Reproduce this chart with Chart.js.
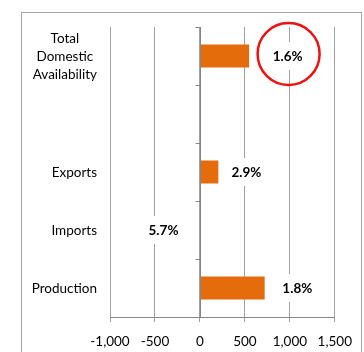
<!DOCTYPE html>
<html>
<head>
<meta charset="utf-8">
<script src="https://cdn.jsdelivr.net/npm/chart.js@4.4.1/dist/chart.umd.min.js"></script>
<style>
  html, body { margin: 0; padding: 0; background: #fff; }
  #wrap { width: 364px; height: 352px; position: relative; }
</style>
</head>
<body>
<div id="wrap"><canvas id="chart"></canvas></div>
<script>
// --- DATA ---
const categories = [
  ["Total", "Domestic", "Availability"],
  "",
  "Exports",
  "Imports",
  "Production",
];
const values = [547, null, 205, 10, 720];
const pctLabels = ["1.6%", null, "2.9%", "5.7%", "1.8%"];
// where each percentage label sits, in axis units
const labelAnchor = [975, null, 517, -405, 1083];
const xTicks = [-1000, -500, 0, 500, 1000, 1500];

const FONT = "Lato, 'Open Sans', sans-serif";
const GRID = "#a0a0a0";
const AXIS = "#868686";

// frame, zero axis, labels and the red circle
const extras = {
  id: "extras",
  beforeDraw(chart) {
    const ctx = chart.ctx;
    ctx.save();
    ctx.strokeStyle = "#a6a6a6";
    ctx.lineWidth = 1;
    ctx.strokeRect(21.5, 12.5, 340, 400);
    ctx.restore();
  },
  afterDatasetsDraw(chart) {
    const ctx = chart.ctx;
    const xs = chart.scales.x;
    const ys = chart.scales.y;
    const x0 = Math.round(xs.getPixelForValue(0)) + 0.5;

    // category axis crossing at zero
    ctx.save();
    ctx.strokeStyle = AXIS;
    ctx.lineWidth = 1;
    ctx.beginPath();
    ctx.moveTo(x0, ys.top);
    ctx.lineTo(x0, ys.bottom);
    const step = (ys.bottom - ys.top) / categories.length;
    for (let i = 0; i <= categories.length; i++) {
      const y = Math.round(ys.top + i * step) + 0.5;
      ctx.moveTo(x0 - 5, y);
      ctx.lineTo(x0, y);
    }
    ctx.stroke();

    // category labels: single lines right aligned, wrapped ones centred as a block
    ctx.font = "13.5px " + FONT;
    ctx.fillStyle = "#000";
    ctx.textBaseline = "middle";
    const right = xs.left - 13;
    categories.forEach((lab, i) => {
      const y = ys.getPixelForValue(i);
      if (Array.isArray(lab)) {
        const widest = Math.max(...lab.map((l) => ctx.measureText(l).width));
        const cx = right - widest / 2;
        const lh = 18;
        ctx.textAlign = "center";
        lab.forEach((l, j) => {
          ctx.fillText(l, cx, y + (j - (lab.length - 1) / 2) * lh + 1);
        });
      } else if (lab) {
        ctx.textAlign = "right";
        ctx.fillText(lab, right, y + 1);
      }
    });

    // percentage labels
    ctx.font = "bold 13.5px " + FONT;
    ctx.textAlign = "center";
    pctLabels.forEach((t, i) => {
      if (!t) return;
      const x = xs.getPixelForValue(labelAnchor[i]);
      const y = ys.getPixelForValue(i);
      const w = ctx.measureText(t).width + 8;
      ctx.fillStyle = "#fff";
      ctx.fillRect(x - w / 2, y - 14, w, 28);
      ctx.fillStyle = "#000";
      ctx.fillText(t, x, y + 1);
    });

    // highlight circle round the first label
    ctx.strokeStyle = "#ee1111";
    ctx.lineWidth = 2.5;
    ctx.beginPath();
    ctx.arc(xs.getPixelForValue(labelAnchor[0]) + 1, ys.getPixelForValue(0) - 2, 31, 0, Math.PI * 2);
    ctx.stroke();
    ctx.restore();
  },
};

new Chart(document.getElementById("chart"), {
  type: "bar",
  data: {
    labels: categories,
    datasets: [
      {
        data: values,
        backgroundColor: "#e46c0a",
        borderWidth: 0,
        categoryPercentage: 0.4,
        barPercentage: 1,
      },
    ],
  },
  options: {
    indexAxis: "y",
    responsive: true,
    maintainAspectRatio: false,
    animation: false,
    layout: { padding: { top: 27, right: 29, left: 0, bottom: 0 } },
    plugins: { legend: { display: false }, tooltip: { enabled: false } },
    scales: {
      x: {
        min: xTicks[0],
        max: xTicks[xTicks.length - 1],
        afterBuildTicks: (scale) => {
          scale.ticks = xTicks.map((v) => ({ value: v }));
        },
        afterFit: (scale) => {
          scale.height = 35;
        },
        grid: { color: GRID, drawTicks: true, tickLength: 5, tickColor: GRID },
        border: { display: true, color: AXIS },
        ticks: {
          padding: 12,
          minRotation: 0,
          maxRotation: 0,
          autoSkip: false,
          color: "#000",
          font: { family: FONT, size: 13.5 },
          callback: (v) => v.toLocaleString("en-US"),
        },
      },
      y: {
        afterFit: (scale) => {
          scale.width = 110;
          scale.paddingTop = 0;
          scale.paddingBottom = 0;
        },
        grid: { display: false, drawTicks: false },
        border: { display: false },
        ticks: { display: false },
      },
    },
  },
  plugins: [extras],
});
</script>
</body>
</html>
